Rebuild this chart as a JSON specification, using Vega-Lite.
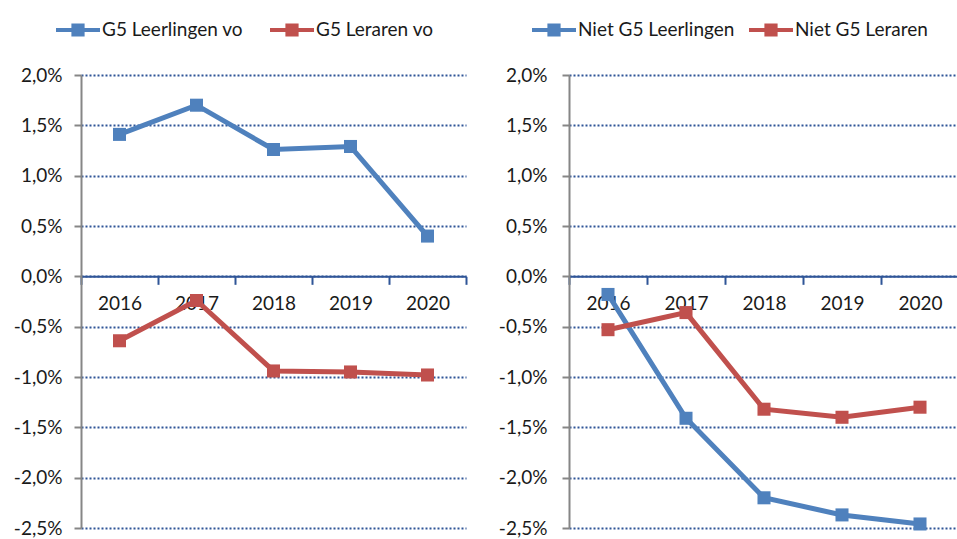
{
  "$schema": "https://vega.github.io/schema/vega-lite/v6.json",
  "background": "white",
  "padding": {"left": 13, "top": 8, "right": 0, "bottom": 0},
  "spacing": 31,
  "config": {
    "font": "Lato",
    "view": {"stroke": null},
    "axis": {"labelFont": "Lato", "labelFontSize": 19, "labelColor": "#1a1a1a"},
    "legend": {"labelFont": "Lato", "labelFontSize": 19, "labelColor": "#1a1a1a", "labelLimit": 400}
  },
  "datasets": {
    "links": [
      {"year": "2016", "series": "G5 Leerlingen vo", "value": 1.41},
      {"year": "2017", "series": "G5 Leerlingen vo", "value": 1.70},
      {"year": "2018", "series": "G5 Leerlingen vo", "value": 1.26},
      {"year": "2019", "series": "G5 Leerlingen vo", "value": 1.29},
      {"year": "2020", "series": "G5 Leerlingen vo", "value": 0.40},
      {"year": "2016", "series": "G5 Leraren vo", "value": -0.64},
      {"year": "2017", "series": "G5 Leraren vo", "value": -0.24},
      {"year": "2018", "series": "G5 Leraren vo", "value": -0.94},
      {"year": "2019", "series": "G5 Leraren vo", "value": -0.95},
      {"year": "2020", "series": "G5 Leraren vo", "value": -0.98}
    ],
    "rechts": [
      {"year": "2016", "series": "Niet G5 Leerlingen", "value": -0.18},
      {"year": "2017", "series": "Niet G5 Leerlingen", "value": -1.41},
      {"year": "2018", "series": "Niet G5 Leerlingen", "value": -2.20},
      {"year": "2019", "series": "Niet G5 Leerlingen", "value": -2.37},
      {"year": "2020", "series": "Niet G5 Leerlingen", "value": -2.46},
      {"year": "2016", "series": "Niet G5 Leraren", "value": -0.53},
      {"year": "2017", "series": "Niet G5 Leraren", "value": -0.36},
      {"year": "2018", "series": "Niet G5 Leraren", "value": -1.32},
      {"year": "2019", "series": "Niet G5 Leraren", "value": -1.40},
      {"year": "2020", "series": "Niet G5 Leraren", "value": -1.30}
    ]
  },
  "resolve": {"scale": {"color": "independent", "x": "independent", "y": "independent"}, "legend": {"color": "independent"}},
  "hconcat": [
    {
      "width": 385,
      "height": 453,
      "data": {"name": "links"},
      "encoding": {
        "x": {"field": "year", "type": "ordinal", "bandPosition": 0.5,
          "scale": {"type": "band", "paddingInner": 0, "paddingOuter": 0},
          "axis": {"title": null, "orient": "bottom", "offset": -251.67, "labelAngle": 0, "domainColor": "#2F5597", "domainWidth": 2, "tickColor": "#2F5597", "tickWidth": 2, "tickSize": 8, "tickBand": "extent", "labelPadding": 10, "grid": false}},
        "y": {"field": "value", "type": "quantitative",
          "scale": {"domain": [-2.5, 2], "nice": false, "zero": false},
          "axis": {"title": null, "values": [-2.5, -2, -1.5, -1, -0.5, 0, 0.5, 1, 1.5, 2], "grid": true, "gridColor": "#2F5597", "gridDash": [2, 2], "gridWidth": 2, "domainColor": "#868686", "domainWidth": 2, "tickColor": "#868686", "tickWidth": 2, "tickSize": 7, "labelPadding": 12,
            "labelExpr": "replace(replace(format(datum.value, '.1f'), '.', ','), '\u2212', '-') + '%'"}},
        "color": {"field": "series", "type": "nominal",
          "scale": {"domain": ["G5 Leerlingen vo", "G5 Leraren vo"], "range": ["#4F81BD", "#C0504D"]},
          "legend": {"title": null, "orient": "none", "legendX": -25, "legendY": -67, "direction": "horizontal", "symbolType": "M-1,-0.09H1V0.09H-1Z M-0.3,-0.3H0.3V0.3H-0.3Z", "symbolSize": 1936, "symbolStrokeWidth": 0, "columnPadding": 27, "labelOffset": 2}}
      },
      "layer": [
        {"mark": {"type": "line", "strokeWidth": 5}},
        {"mark": {"type": "point", "shape": "square", "filled": true, "size": 170, "opacity": 1}}
      ]
    },
    {
      "width": 390,
      "height": 453,
      "data": {"name": "rechts"},
      "encoding": {
        "x": {"field": "year", "type": "ordinal", "bandPosition": 0.5,
          "scale": {"type": "band", "paddingInner": 0, "paddingOuter": 0},
          "axis": {"title": null, "orient": "bottom", "offset": -251.67, "labelAngle": 0, "domainColor": "#2F5597", "domainWidth": 2, "tickColor": "#2F5597", "tickWidth": 2, "tickSize": 8, "tickBand": "extent", "labelPadding": 10, "grid": false}},
        "y": {"field": "value", "type": "quantitative",
          "scale": {"domain": [-2.5, 2], "nice": false, "zero": false},
          "axis": {"title": null, "values": [-2.5, -2, -1.5, -1, -0.5, 0, 0.5, 1, 1.5, 2], "grid": true, "gridColor": "#2F5597", "gridDash": [2, 2], "gridWidth": 2, "domainColor": "#868686", "domainWidth": 2, "tickColor": "#868686", "tickWidth": 2, "tickSize": 7, "labelPadding": 15,
            "labelExpr": "replace(replace(format(datum.value, '.1f'), '.', ','), '\u2212', '-') + '%'"}},
        "color": {"field": "series", "type": "nominal",
          "scale": {"domain": ["Niet G5 Leerlingen", "Niet G5 Leraren"], "range": ["#4F81BD", "#C0504D"]},
          "legend": {"title": null, "orient": "none", "legendX": -37, "legendY": -67, "direction": "horizontal", "symbolType": "M-1,-0.09H1V0.09H-1Z M-0.3,-0.3H0.3V0.3H-0.3Z", "symbolSize": 1936, "symbolStrokeWidth": 0, "columnPadding": 14, "labelOffset": 2}}
      },
      "layer": [
        {"mark": {"type": "line", "strokeWidth": 5}},
        {"mark": {"type": "point", "shape": "square", "filled": true, "size": 170, "opacity": 1}}
      ]
    }
  ]
}
